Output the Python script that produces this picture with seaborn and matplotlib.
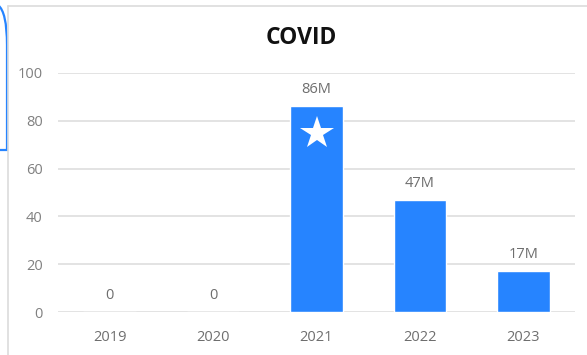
import matplotlib
matplotlib.use("Agg")
import matplotlib.pyplot as plt
from matplotlib.path import Path
from matplotlib.patches import PathPatch
import seaborn as sns
import pandas as pd

years = ["2019", "2020", "2021", "2022", "2023"]
cases_m = [0, 0, 86, 47, 17]
value_labels = ["0", "0", "86M", "47M", "17M"]
highlight_year = "2021"
title = "COVID"

sns.set_style("white")
plt.rcParams["font.family"] = ["Open Sans", "DejaVu Sans"]

W, H = 587, 355
fig = plt.figure(figsize=(W / 100, H / 100), dpi=100)
fig.patch.set_facecolor("white")

def fx(px):
    return px / W

def fy(py):
    return 1 - py / H

# card outline
border = "#dcdcdc"
fig.add_artist(plt.Line2D([fx(8), fx(8)], [fy(6), fy(355)], color=border, lw=1.2))
fig.add_artist(plt.Line2D([fx(8), fx(587)], [fy(6), fy(6)], color=border, lw=1.2))

# edge of the neighbouring panel on the left
verts = [(fx(-2), fy(5)), (fx(7), fy(12)), (fx(7), fy(45)), (fx(7), fy(150)),
         (fx(-2), fy(150))]
codes = [Path.MOVETO, Path.CURVE3, Path.CURVE3, Path.LINETO, Path.LINETO]
fig.add_artist(PathPatch(Path(verts, codes), fill=False, edgecolor="#2684FF",
                         lw=1.6, transform=fig.transFigure))

ax = fig.add_axes([fx(58), fy(312), fx(575) - fx(58), fy(73) - fy(312)])
df = pd.DataFrame({"year": years, "cases": cases_m})
sns.barplot(data=df, x="year", y="cases", color="#2684FF", saturation=1,
            width=0.51, ax=ax)

ax.set_ylim(0, 100)
ax.set_xlim(-0.5, 4.5)
ax.set_yticks([0, 20, 40, 60, 80, 100])
ax.yaxis.grid(True, color="#dedede", lw=1.2)
ax.set_axisbelow(True)
for s in ax.spines.values():
    s.set_visible(False)
ax.set_xlabel("")
ax.set_ylabel("")
ax.tick_params(axis="y", length=0, pad=11, labelsize=10.5, labelcolor="#808080")
ax.tick_params(axis="x", length=0, pad=13, labelsize=10.5, labelcolor="#6e6e6e")

for i, (v, lab) in enumerate(zip(cases_m, value_labels)):
    ax.annotate(lab, (i, v), xytext=(0, 6.5), textcoords="offset points",
                ha="center", va="bottom", fontsize=10.5, color="#6e6e6e")

hi = years.index(highlight_year)
ax.plot(hi, cases_m[hi] - 11, marker="*", color="white", markersize=25,
        markeredgewidth=0)

fig.text(fx(301), fy(38), title, ha="center", va="center", fontsize=16.5,
         fontweight="bold", color="#111111")

fig.savefig("out.png", dpi=100, facecolor="white")
